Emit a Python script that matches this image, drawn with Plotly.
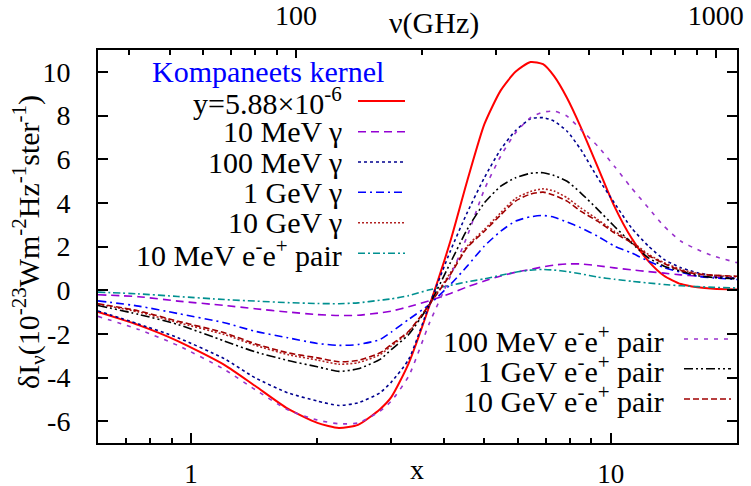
import math
import plotly.graph_objects as go

# ---------------- data ----------------
x = [0.6, 0.75, 0.93, 1.2, 1.42, 1.7, 2.0, 2.25, 2.5, 2.82, 3.0, 3.3, 3.7, 4.15, 4.55, 5.0,
     5.47, 5.93, 6.44, 6.9, 7.33, 7.87, 8.48, 9.31, 10.2, 11.2, 12.3, 13.4, 14.7, 16.1, 17.6, 20]

kompaneets = [-1.0, -1.6, -2.33, -3.42, -4.38, -5.43, -6.08, -6.31, -6.17, -5.45, -4.9, -3.35, -0.7, 2.25, 5.0, 7.6,
              9.15, 10.0, 10.45, 10.35, 9.8, 8.8, 7.48, 5.65, 3.85, 2.4, 1.33, 0.66, 0.28, 0.13, 0.06, 0.03]
gamma_10MeV = [-0.21, -0.30, -0.50, -0.70, -0.85, -1.0, -1.12, -1.16, -1.15, -1.04, -0.96, -0.76, -0.48, -0.15, 0.15, 0.42,
               0.65, 0.82, 0.95, 1.07, 1.15, 1.2, 1.2, 1.12, 1.02, 0.93, 0.85, 0.78, 0.7, 0.64, 0.6, 0.55]
gamma_100MeV = [-0.95, -1.55, -2.18, -3.14, -4.01, -4.70, -5.08, -5.28, -5.16, -4.70, -4.21, -3.17, -0.65, 1.8, 3.55, 5.15,
                6.45, 7.3, 7.85, 7.9, 7.74, 7.28, 6.45, 5.15, 4.0, 2.86, 2.02, 1.41, 1.03, 0.8, 0.67, 0.52]
gamma_1GeV = [-0.49, -0.73, -1.07, -1.49, -1.88, -2.18, -2.44, -2.53, -2.49, -2.26, -1.92, -1.34, -0.65, 0.26, 1.10, 2.02,
              2.70, 3.16, 3.36, 3.42, 3.34, 3.12, 2.86, 2.47, 2.02, 1.71, 1.33, 1.03, 0.82, 0.64, 0.56, 0.49]
gamma_10GeV = [-0.64, -1.0, -1.48, -2.03, -2.52, -2.95, -3.2, -3.39, -3.32, -2.95, -2.56, -1.92, -0.65, 0.80, 2.02, 2.78,
               3.55, 4.2, 4.52, 4.64, 4.54, 4.23, 3.77, 3.24, 2.70, 2.24, 1.64, 1.26, 0.95, 0.77, 0.68, 0.61]
pair_10MeV = [-0.09, -0.17, -0.29, -0.43, -0.50, -0.57, -0.61, -0.62, -0.58, -0.46, -0.40, -0.25, 0.02, 0.22, 0.38, 0.52,
              0.68, 0.82, 0.92, 0.95, 0.92, 0.85, 0.75, 0.6, 0.5, 0.41, 0.33, 0.26, 0.2, 0.16, 0.13, 0.1]
pair_100MeV = [-1.2, -1.8, -2.53, -3.63, -4.55, -5.48, -5.95, -6.12, -6.08, -5.54, -5.08, -3.94, -1.5, 0.64, 2.47, 4.61,
               6.14, 7.2, 7.9, 8.15, 8.2, 7.97, 7.36, 6.6, 5.68, 4.69, 3.77, 2.93, 2.24, 1.86, 1.56, 1.26]
pair_1GeV = [-0.70, -1.11, -1.57, -2.33, -2.82, -3.22, -3.51, -3.72, -3.60, -3.17, -2.72, -2.03, -0.65, 1.26, 2.78, 4.0,
             4.76, 5.15, 5.35, 5.38, 5.25, 4.99, 4.46, 3.70, 2.93, 2.17, 1.48, 1.10, 0.87, 0.67, 0.58, 0.52]
pair_10GeV = [-0.62, -0.95, -1.42, -1.95, -2.45, -2.87, -3.10, -3.28, -3.22, -2.87, -2.49, -1.88, -0.65, 0.72, 1.95, 2.70,
              3.45, 4.08, 4.40, 4.49, 4.35, 4.08, 3.62, 3.16, 2.63, 2.17, 1.59, 1.22, 0.90, 0.74, 0.68, 0.64]

names_top = ["y=5.88×10<sup>-6</sup>", "10 MeV γ", "100 MeV γ", "1 GeV γ", "10 GeV γ",
             "10 MeV e<sup>-</sup>e<sup>+</sup> pair"]
names_bottom = ["100 MeV e<sup>-</sup>e<sup>+</sup> pair", "1 GeV e<sup>-</sup>e<sup>+</sup> pair",
                "10 GeV e<sup>-</sup>e<sup>+</sup> pair"]

x_ticks = [1, 10]
x_minor = [0.7, 0.8, 0.9, 2, 3, 4, 5, 6, 7, 8, 9, 20]
ghz_ticks = [100, 1000]
ghz_minor = [40, 50, 60, 70, 80, 90, 200, 300, 400, 500, 600, 700, 800, 900]
y_ticks = [-6, -4, -2, 0, 2, 4, 6, 8, 10]
GHZ_PER_X = 56.2
X_RANGE = (0.6, 20)
Y_RANGE = (-7, 11)

# ---------------- styles ----------------
FONT = "Liberation Serif"
FS = 30      # legend / labels
FS_TICK = 28
LW = 1.6
series_top = [
    (kompaneets, "#ff0000", "solid", 2.0),
    (gamma_10MeV, "#9400d3", "8px,5px", LW),
    (gamma_100MeV, "#00008f", "3px,3px", LW),
    (gamma_1GeV, "#0000ff", "8px,4px,2px,4px", LW),
    (gamma_10GeV, "#b22222", "2px,2px", LW),
    (pair_10MeV, "#009090", "7px,3px,2px,3px", LW),
]
series_bottom = [
    (pair_100MeV, "#9932cc", "4px,6px", LW),
    (pair_1GeV, "#000000", "9px,3px,2px,3px,2px,3px", LW),
    (pair_10GeV, "#a00000", "6px,3px", LW),
]

fig = go.Figure()
for vals, col, dash, w in series_top + series_bottom:
    fig.add_trace(go.Scatter(x=x, y=vals, mode="lines",
                             line=dict(color=col, dash=dash, width=w, shape="spline", smoothing=0.6),
                             showlegend=False, hoverinfo="skip"))
# same curve on the frequency axis (invisible) so the top GHz axis is drawn
fig.add_trace(go.Scatter(x=[v * GHZ_PER_X for v in x], y=kompaneets, mode="lines", xaxis="x2",
                         line=dict(color="rgba(0,0,0,0)", width=0), showlegend=False, hoverinfo="skip"))

# plot-area pixel geometry (for text placement only)
L, R, T, B = 98, 737, 50, 443
def px(v):
    return (v - L) / (R - L)
def py(v):
    return (B - v) / (B - T)

ann = []
shapes = []
ann.append(dict(text="Kompaneets kernel", x=px(150), y=py(72), xref="paper", yref="paper",
                xanchor="left", yanchor="middle", showarrow=False,
                font=dict(family=FONT, size=FS, color="#0000ff")))
top_rows = [101, 131.7, 162, 192.3, 222.7, 253.3]
for (vals, col, dash, w), name, yy in zip(series_top, names_top, top_rows):
    ann.append(dict(text=name, x=px(344), y=py(yy), xref="paper", yref="paper",
                    xanchor="right", yanchor="middle", showarrow=False,
                    font=dict(family=FONT, size=FS, color="black")))
    shapes.append(dict(type="line", xref="paper", yref="paper", x0=px(358), x1=px(405),
                       y0=py(yy), y1=py(yy), line=dict(color=col, dash=dash, width=w)))
bot_rows = [339, 368.7, 399]
for (vals, col, dash, w), name, yy in zip(series_bottom, names_bottom, bot_rows):
    ann.append(dict(text=name, x=px(666), y=py(yy), xref="paper", yref="paper",
                    xanchor="right", yanchor="middle", showarrow=False,
                    font=dict(family=FONT, size=FS, color="black")))
    shapes.append(dict(type="line", xref="paper", yref="paper", x0=px(684), x1=px(731),
                       y0=py(yy), y1=py(yy), line=dict(color=col, dash=dash, width=w)))

ann.append(dict(text="x", x=px(417), y=py(469), xref="paper", yref="paper", xanchor="center",
                yanchor="middle", showarrow=False, font=dict(family=FONT, size=28, color="black")))
ann.append(dict(text="ν(GHz)", x=px(434), y=py(23), xref="paper", yref="paper", xanchor="center",
                yanchor="middle", showarrow=False, font=dict(family=FONT, size=FS, color="black")))
ann.append(dict(text="δI<sub>ν</sub>(10<sup>-23</sup>Wm<sup>-2</sup>Hz<sup>-1</sup>ster<sup>-1</sup>)",
                x=px(28), y=py(242), xref="paper", yref="paper", xanchor="center", yanchor="middle",
                textangle=-90, showarrow=False, font=dict(family=FONT, size=FS, color="black")))

fig.update_layout(
    template="none",
    width=751, height=486,
    margin=dict(l=L, r=751 - R, t=T, b=486 - B, pad=0),
    paper_bgcolor="white", plot_bgcolor="white",
    font=dict(family=FONT, size=FS_TICK, color="black"),
    showlegend=False,
    annotations=ann, shapes=shapes,
    xaxis=dict(type="log", range=[math.log10(X_RANGE[0]), math.log10(X_RANGE[1])],
               tickmode="array", tickvals=x_ticks, ticktext=[str(t) for t in x_ticks],
               tickfont=dict(family=FONT, size=27, color="black"),
               ticks="inside", ticklen=10, tickwidth=1.5, tickcolor="black",
               minor=dict(tickmode="array", tickvals=x_minor, ticks="inside", ticklen=5,
                          tickwidth=1.5, tickcolor="black", showgrid=False),
               showline=True, linewidth=2, linecolor="black", mirror=True,
               showgrid=False, zeroline=False, automargin=False, ticklabelstandoff=6),
    xaxis2=dict(type="log", overlaying="x", side="top", anchor="y",
                range=[math.log10(X_RANGE[0] * GHZ_PER_X), math.log10(X_RANGE[1] * GHZ_PER_X)],
                tickmode="array", tickvals=ghz_ticks, ticktext=[str(t) for t in ghz_ticks],
                ticks="inside", ticklen=8, tickwidth=1.5, tickcolor="black",
                minor=dict(tickmode="array", tickvals=ghz_minor, ticks="inside", ticklen=5,
                           tickwidth=1.5, tickcolor="black", showgrid=False),
                showline=False, showgrid=False, zeroline=False, automargin=False,
                ticklabelstandoff=18),
    yaxis=dict(range=list(Y_RANGE), tickmode="array", tickvals=y_ticks,
               ticktext=[str(t) for t in y_ticks],
               ticks="inside", ticklen=10, tickwidth=1.5, tickcolor="black",
               showline=True, linewidth=2, linecolor="black", mirror="ticks",
               showgrid=False, zeroline=False, automargin=False, ticklabelstandoff=20),
)

fig.write_html("out.html", config={"displayModeBar": False},
               post_script="document.body.style.margin='0';document.body.style.overflow='hidden';")
